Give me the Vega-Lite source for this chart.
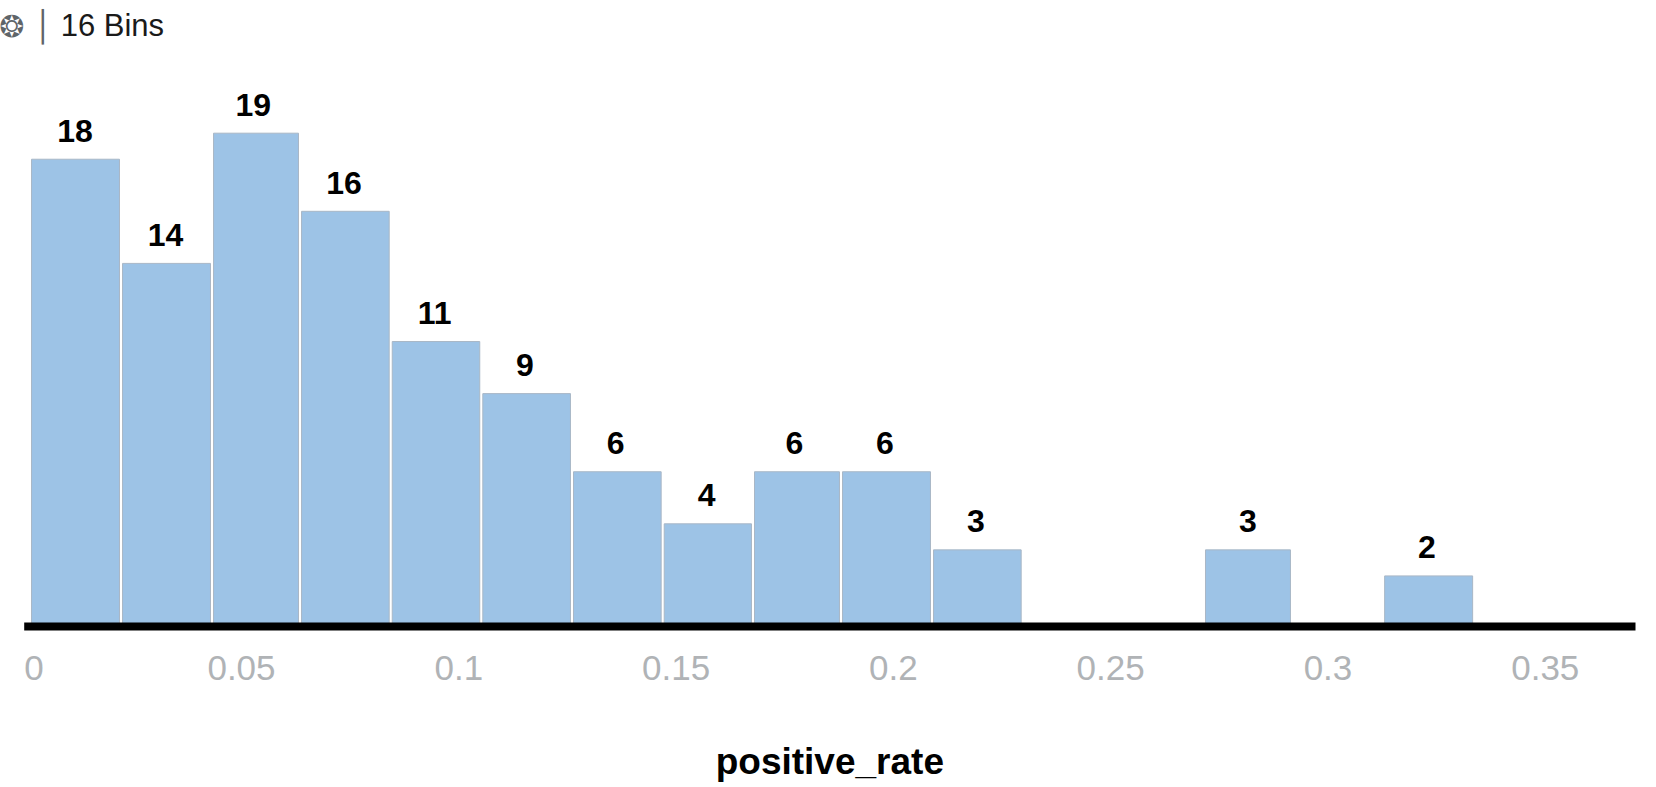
{
  "$schema": "https://vega.github.io/schema/vega-lite/v6.json",
  "width": 1611.3,
  "height": 568,
  "autosize": {"type": "none"},
  "padding": {"left": 23.7, "top": 60, "right": 21, "bottom": 159},
  "background": "white",
  "title": {"text": "16 Bins", "anchor": "start", "frame": "group", "dx": 37, "offset": -55, "baseline": "alphabetic", "font": "Liberation Sans", "fontSize": 31, "fontWeight": "normal", "color": "#1a1a1a"},
  "data": {"values": [
    {"bin_start": 0.0018, "bin_end": 0.02204, "label_at": 0.0118, "count": 18},
    {"bin_start": 0.02274, "bin_end": 0.04298, "label_at": 0.03265, "count": 14},
    {"bin_start": 0.04368, "bin_end": 0.06323, "label_at": 0.05283, "count": 19},
    {"bin_start": 0.06393, "bin_end": 0.0841, "label_at": 0.0737, "count": 16},
    {"bin_start": 0.0848, "bin_end": 0.10494, "label_at": 0.09457, "count": 11},
    {"bin_start": 0.10564, "bin_end": 0.12581, "label_at": 0.11535, "count": 9},
    {"bin_start": 0.12651, "bin_end": 0.14668, "label_at": 0.13622, "count": 6},
    {"bin_start": 0.14738, "bin_end": 0.16746, "label_at": 0.15716, "count": 4},
    {"bin_start": 0.16816, "bin_end": 0.18771, "label_at": 0.17731, "count": 6},
    {"bin_start": 0.18841, "bin_end": 0.20865, "label_at": 0.19818, "count": 6},
    {"bin_start": 0.20935, "bin_end": 0.22952, "label_at": 0.21912, "count": 3},
    {"bin_start": 0.27193, "bin_end": 0.29148, "label_at": 0.28171, "count": 3},
    {"bin_start": 0.31315, "bin_end": 0.3334, "label_at": 0.32289, "count": 2}
  ]},
  "encoding": {
    "y": {
      "field": "count",
      "type": "quantitative",
      "scale": {"domain": [0, 21.81], "nice": false},
      "axis": {
        "title": "❂ │",
        "titleAngle": 0,
        "titleX": -25,
        "titleY": -24,
        "titleAlign": "left",
        "titleBaseline": "alphabetic",
        "titleFont": "DejaVu Sans",
        "titleFontSize": 30,
        "titleFontWeight": "normal",
        "titleColor": "#5f6569",
        "domain": false,
        "ticks": false,
        "labels": false,
        "grid": false
      }
    }
  },
  "layer": [
    {
      "mark": {"type": "bar", "orient": "vertical", "fill": "#9dc3e6", "stroke": "#a9b7c6", "strokeWidth": 1},
      "encoding": {
        "x": {
          "field": "bin_start",
          "type": "quantitative",
          "scale": {"domain": [0, 0.37076], "nice": false, "zero": false, "padding": 0},
          "axis": {
            "values": [0, 0.05, 0.1, 0.15, 0.2, 0.25, 0.3, 0.35],
            "format": "~g",
            "labelFlush": true,
            "labelFont": "Liberation Sans",
            "labelFontSize": 35,
            "labelColor": "#b0b3b6",
            "labelPadding": 25,
            "labelOverlap": false,
            "ticks": false,
            "grid": false,
            "domainColor": "#000000",
            "domainWidth": 8,
            "offset": -2,
            "zindex": 1,
            "title": "positive_rate",
            "titleFont": "Liberation Sans",
            "titleFontSize": 37,
            "titleFontWeight": "bold",
            "titleColor": "#000000",
            "titlePadding": 58
          }
        },
        "x2": {"field": "bin_end"},
        "y2": {"datum": 0}
      }
    },
    {
      "mark": {"type": "text", "font": "Liberation Sans", "fontSize": 32, "fontWeight": "bold", "color": "#000000", "baseline": "alphabetic", "dy": -17.5},
      "encoding": {
        "x": {"field": "label_at", "type": "quantitative"},
        "text": {"field": "count", "type": "quantitative"}
      }
    }
  ],
  "config": {"view": {"stroke": null}}
}
